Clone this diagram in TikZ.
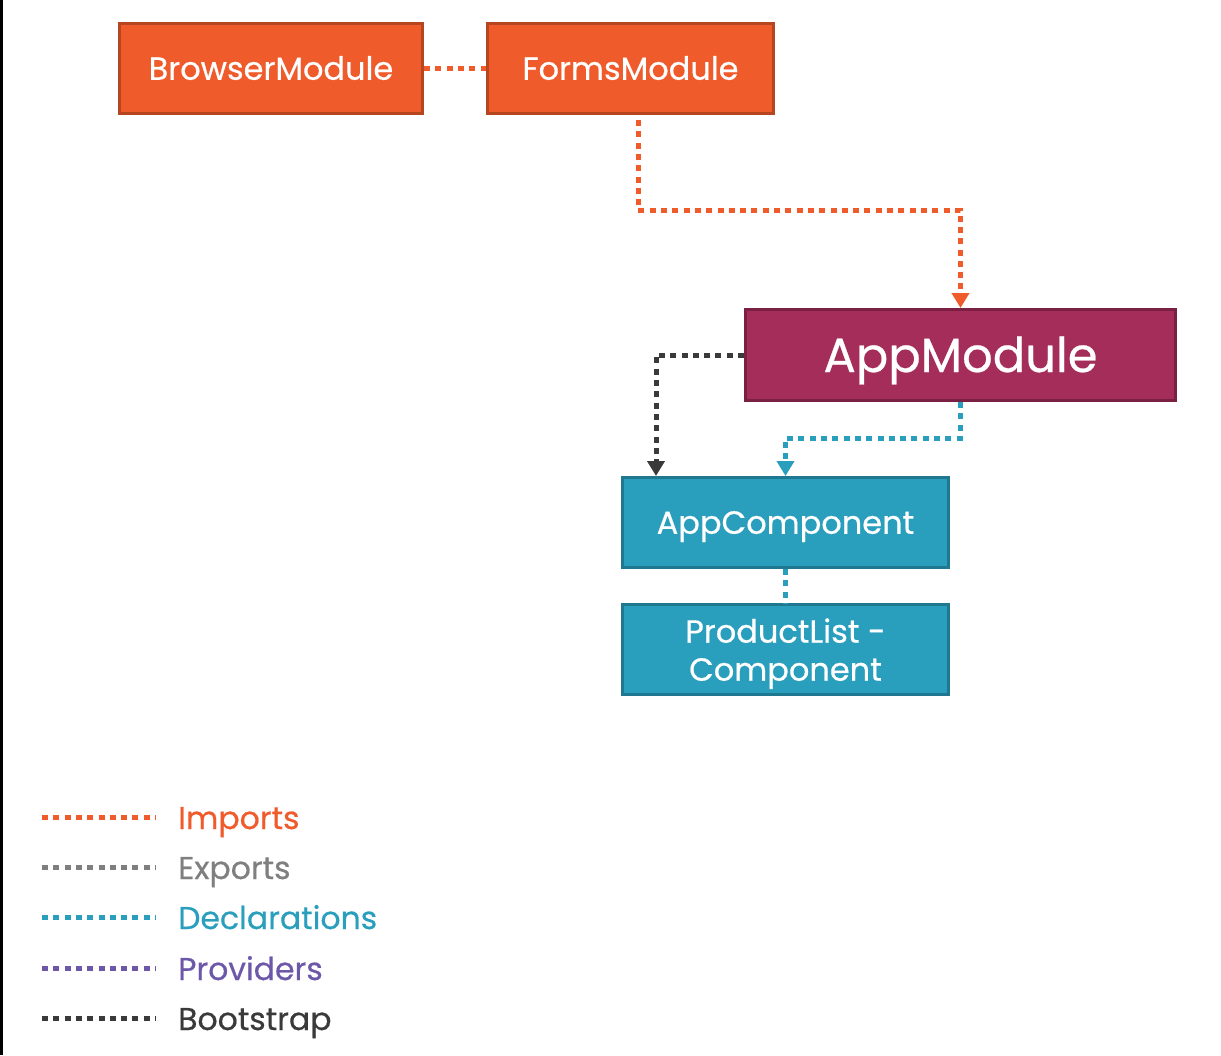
\documentclass[tikz,border=0pt]{standalone}
\usepackage{fontspec}
\setmainfont{Poppins}
\newfontfamily\medfont{Poppins}[FakeBold=0.5]
\usetikzlibrary{arrows.meta}
\definecolor{impcol}{HTML}{EF5B2B}
\definecolor{impdark}{HTML}{B5461F}
\definecolor{appcol}{HTML}{A52D5A}
\definecolor{appdark}{HTML}{7A2143}
\definecolor{deccol}{HTML}{2A9FBD}
\definecolor{decdark}{HTML}{1F7890}
\definecolor{expcol}{HTML}{7F7F7F}
\definecolor{provcol}{HTML}{6C57A8}
\definecolor{bootcol}{HTML}{3A3A3A}

\begin{document}
\begin{tikzpicture}[x=1pt, y=-1pt,
  box/.style={draw, line width=3pt, inner sep=0pt, text=white,
    font=\medfont\fontsize{32}{38}\selectfont, align=center},
  oneline/.style={text height=22.5pt, text depth=0pt},
  modbox/.style={box, oneline, fill=impcol, draw=impdark},
  appbox/.style={box, fill=appcol, draw=appdark,
    font=\medfont\fontsize{48}{50}\selectfont, text height=34pt, text depth=0pt},
  compbox/.style={box, fill=deccol, draw=decdark, text depth=0pt},
  dots/.style={line width=5pt, dash pattern=on 6pt off 5.3pt},
  tip/.style={-{Triangle[width=17pt,length=15pt]}},
  imports/.style={dots, impcol},
  exports/.style={dots, expcol},
  declarations/.style={dots, deccol},
  providers/.style={dots, provcol},
  bootstrap/.style={dots, bootcol},
  legtext/.style={anchor=base west, inner sep=0pt,
    font=\medfont\fontsize{31.5}{38}\selectfont}]
\useasboundingbox (0,0) rectangle (1221,1055);
\fill[black] (0,0) rectangle (3,1055);

\node[modbox, minimum width=303, minimum height=90] (browser) at (271,68.5) {BrowserModule};
\node[modbox, minimum width=286, minimum height=90] (forms) at (630.5,68.5) {FormsModule};
\node[appbox, minimum width=430, minimum height=91] (app) at (960.5,355) {AppModule};
\node[compbox, oneline, minimum width=326, minimum height=90] (appc) at (785.5,522.5) {AppComponent};
\node[compbox, minimum width=326, minimum height=90] (plist) at (785.5,649.5) {ProductList -\\Component};

\draw[imports] (browser.east) -- (forms.west);
\draw[imports, tip, shorten <=5pt] ([xshift=7.5pt]forms.south) -- ++(0,95) -| (app.north);
\draw[bootstrap, tip] (app.west) -| ([xshift=-129.5pt]appc.north);
\draw[declarations, tip] (app.south) -- ++(0,36) -| (appc.north);
\draw[declarations] (appc.south) -- (plist.north);

% legend
\foreach \y/\s/\c/\t in {817/imports/impcol/Imports, 867/exports/expcol/Exports,
    917/declarations/deccol/Declarations, 968/providers/provcol/Providers,
    1018/bootstrap/bootcol/Bootstrap}{
  \coordinate (l\s) at (42,\y);
  \node[legtext, text=\c] (t\s) at (178,\y+12) {\t};
  \draw[\s] (l\s) -- ++(114,0);
}
\end{tikzpicture}
\end{document}
